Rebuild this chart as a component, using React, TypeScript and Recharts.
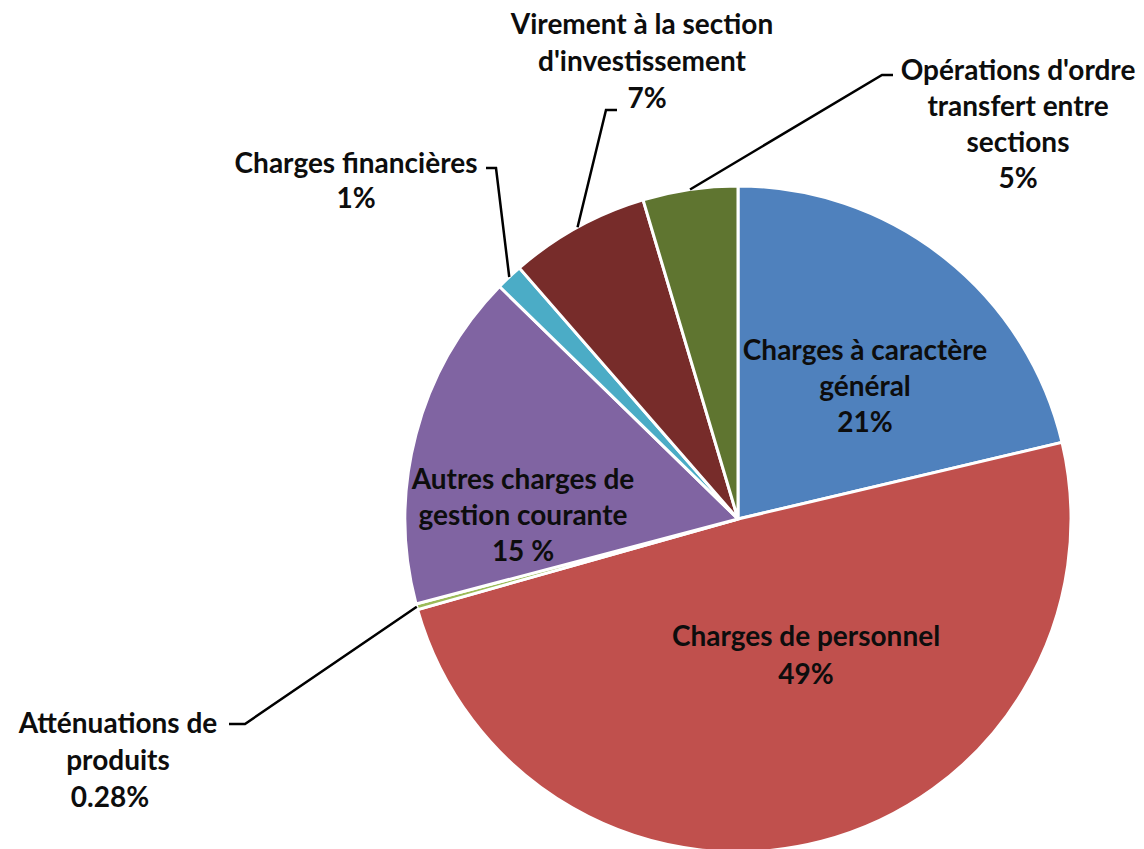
import React from 'react';
import { PieChart, Pie, Cell } from 'recharts';

// budget categories, clockwise from 12 o'clock
const categories = [
  'Charges à caractère général',
  'Charges de personnel',
  'Atténuations de produits',
  'Autres charges de gestion courante',
  'Charges financières',
  "Virement à la section d'investissement",
  "Opérations d'ordre transfert entre sections",
];

// slice sizes (percent)
const shares = [21.3, 49.3, 0.28, 16.4, 1.3, 6.8, 4.6];

// percentage text as printed on the chart
const shareLabels = ['21%', '49%', '0.28%', '15 %', '1%', '7%', '5%'];

// label text split into lines
const labelLines = [
  ['Charges à caractère', 'général'],
  ['Charges de personnel'],
  ['Atténuations de', 'produits'],
  ['Autres charges de', 'gestion courante'],
  ['Charges financières'],
  ['Virement à la section', "d'investissement"],
  ["Opérations d'ordre", 'transfert entre', 'sections'],
];

const COLORS = ['#4F81BD', '#C0504D', '#9BBB59', '#8064A2', '#4BACC6', '#772C2A', '#5F7530'];

// label placement relative to the pie centre; leader = elbow + end of the callout line
// pdx nudges the percentage line sideways
const LAYOUT: { x: number; y: number; gap: number; pdx?: number; leader?: [number, number, number, number] }[] = [
  { x: 127, y: -170, gap: 36 },
  { x: 68, y: 116, gap: 38 },
  { x: -620, y: 203, gap: 37, pdx: -8, leader: [-493, 205, -509, 205] },
  { x: -215, y: -41, gap: 36 },
  { x: -382, y: -357, gap: 35, leader: [-242, -351, -252, -351] },
  { x: -96, y: -496, gap: 37, pdx: 5, leader: [-132, -409, -121, -409] },
  { x: 280, y: -450, gap: 36, leader: [144, -444, 155, -444] },
];

const data = categories.map((name, i) => ({ name, value: shares[i] }));

const RADIAN = Math.PI / 180;

const renderLabel = (props: any) => {
  const { cx, cy, midAngle, outerRadius, index } = props;
  const l = LAYOUT[index];
  const lines = [...labelLines[index], shareLabels[index]];
  let leader = null;
  if (l.leader) {
    const sx = cx + outerRadius * Math.cos(-midAngle * RADIAN);
    const sy = cy + outerRadius * Math.sin(-midAngle * RADIAN);
    const [ex, ey, fx, fy] = l.leader;
    leader = (
      <polyline
        points={`${sx},${sy} ${cx + ex},${cy + ey} ${cx + fx},${cy + fy}`}
        fill="none"
        stroke="#000"
        strokeWidth={2.5}
      />
    );
  }
  return (
    <g key={`lbl-${index}`}>
      {leader}
      {lines.map((t, k) => (
        <text
          key={k}
          x={cx + l.x + (k === lines.length - 1 ? l.pdx || 0 : 0)}
          y={cy + l.y + k * l.gap}
          textAnchor="middle"
          dominantBaseline="central"
          fill="#0d0d0d"
          fontFamily="Lato, 'Open Sans', sans-serif"
          fontWeight={700}
          fontSize={28}
        >
          {t}
        </text>
      ))}
    </g>
  );
};

export default function App() {
  return (
    <div style={{ position: 'absolute', left: 0, top: 0, background: '#fff' }}>
      <PieChart width={1144} height={849} margin={{ top: 0, right: 0, bottom: 0, left: 0 }}>
        <Pie
          data={data}
          dataKey="value"
          nameKey="name"
          cx={738}
          cy={519}
          outerRadius={333}
          startAngle={90}
          endAngle={-270}
          stroke="#fff"
          strokeWidth={3}
          label={renderLabel}
          labelLine={false}
          isAnimationActive={false}
        >
          {data.map((entry, i) => (
            <Cell key={`cell-${i}`} fill={COLORS[i]} />
          ))}
        </Pie>
      </PieChart>
    </div>
  );
}
